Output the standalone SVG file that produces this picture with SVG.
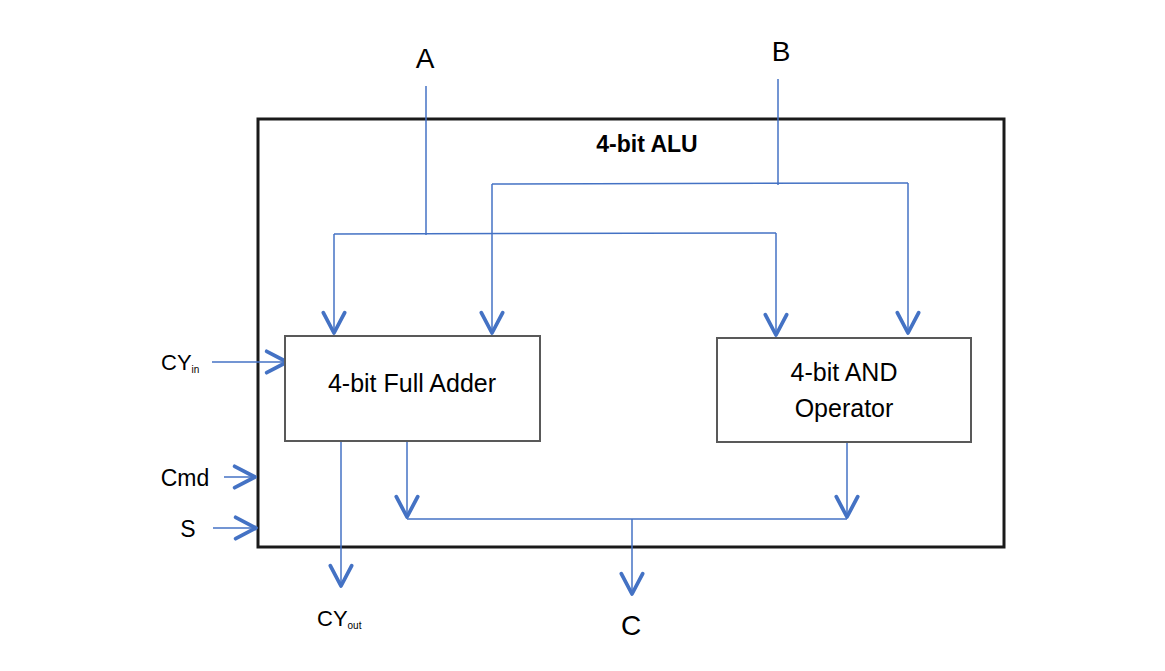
<svg xmlns="http://www.w3.org/2000/svg" width="1165" height="671" viewBox="0 0 1165 671">
<defs>
<style>
.w{fill:none;stroke:#4472C4;stroke-width:1.5}
.a{marker-end:url(#arr)}
.box{fill:#fff;stroke:#595959;stroke-width:2}
.t{font-family:"Liberation Sans",Arial,sans-serif;fill:#000}
</style>
<marker id="arr" markerUnits="userSpaceOnUse" markerWidth="30" markerHeight="30" viewBox="-24 -14 28 28" refX="0" refY="0" orient="auto">
<path d="M-19,-10 L0,0 L-19,10" fill="none" stroke="#4472C4" stroke-width="3.5" stroke-linecap="round" stroke-linejoin="round"/>
</marker>
</defs>
<rect width="1165" height="671" fill="#fff"/>
<g id="alu">
<rect x="258" y="119" width="746" height="428" fill="#fff" stroke="#1a1a1a" stroke-width="3"/>
<text class="t" x="647" y="152" font-size="23" font-weight="bold" text-anchor="middle">4-bit ALU</text>
</g>
<g id="connectors">
<polyline class="w" points="426,86 426,235"/>
<polyline class="w a" points="334,234 334,333"/>
<polyline class="w" points="334,234 776,233"/>
<polyline class="w a" points="776,233 776,335"/>
<polyline class="w" points="778,79 778,185"/>
<polyline class="w a" points="492,184 492,333"/>
<polyline class="w" points="492,184 908,183"/>
<polyline class="w a" points="908,183 908,333"/>
<line class="w a" x1="212" y1="362" x2="287" y2="362"/>
<line class="w a" x1="224" y1="477" x2="255" y2="477"/>
<line class="w a" x1="213" y1="528" x2="256" y2="528"/>
<line class="w a" x1="341" y1="441" x2="341" y2="586"/>
<line class="w a" x1="407" y1="441" x2="407" y2="517"/>
<line class="w a" x1="847" y1="442" x2="847" y2="517"/>
<polyline class="w" points="407,519 847,519"/>
<line class="w a" x1="632" y1="519" x2="632" y2="594"/>
</g>
<g id="adder">
<rect class="box" x="285" y="336" width="255" height="105"/>
<text class="t" x="412" y="392" font-size="25" text-anchor="middle">4-bit Full Adder</text>
</g>
<g id="and">
<rect class="box" x="717" y="338" width="254" height="104"/>
<text class="t" x="844" y="381" font-size="25" text-anchor="middle">4-bit AND</text>
<text class="t" x="844" y="417" font-size="25" text-anchor="middle">Operator</text>
</g>
<g id="labels">
<text class="t" x="425" y="68" font-size="28" text-anchor="middle">A</text>
<text class="t" x="781" y="61" font-size="28" text-anchor="middle">B</text>
<text class="t" x="161" y="370" font-size="22">CY<tspan font-size="10" dy="3">in</tspan></text>
<text class="t" x="185" y="486" font-size="23" text-anchor="middle">Cmd</text>
<text class="t" x="188" y="537" font-size="23" text-anchor="middle">S</text>
<text class="t" x="317" y="626" font-size="22">CY<tspan font-size="10" dy="3">out</tspan></text>
<text class="t" x="631" y="635" font-size="28" text-anchor="middle">C</text>
</g>
</svg>
